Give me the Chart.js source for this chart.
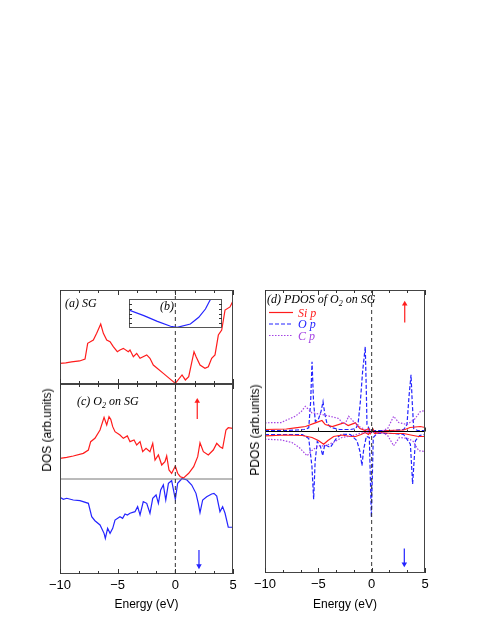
<!DOCTYPE html>
<html>
<head>
<meta charset="utf-8">
<script src="https://cdn.jsdelivr.net/npm/chart.js@4.4.1/dist/chart.umd.min.js"></script>
<style>
body { margin: 0; background: #fff; width: 485px; height: 627px; position: relative; overflow: hidden; font-family: "Liberation Sans", Arial, sans-serif; }
canvas { position: absolute; }
.ytitle { position: absolute; font-size: 12px; white-space: nowrap; transform: translate(-50%, -50%) rotate(-90deg); }
</style>
</head>
<body>
<canvas id="dosC" width="245" height="247" style="left:0;top:380px"></canvas>
<canvas id="dosA" width="245" height="102" style="left:0;top:286px"></canvas>
<canvas id="inset" width="102" height="37" style="left:125px;top:295px"></canvas>
<canvas id="pdos" width="190" height="341" style="left:245px;top:286px"></canvas>
<div class="ytitle" style="left:47px;top:430px">DOS (arb.units)</div>
<div class="ytitle" style="left:255px;top:430px">PDOS (arb.units)</div>
<script>
// --- datos ---
const energyTicks = [-10, -5, 0, 5];

// (a) SG
const energyA = [-10, -9.5, -9, -8.3, -7.83, -7.6, -7.11, -6.82, -6.47, -6.24, -5.95, -5.66, -5.38, -5.03, -4.8, -4.51, -4.08, -3.93, -3.64, -3.35, -3.06, -2.48, -2.2, -1.91, -1.04, 0, 0.58, 0.87, 1.16, 1.62, 1.8, 2.14, 2.57, 2.86, 3.15, 3.44, 3.73, 4.02, 4.31, 4.74, 4.97, 5];
const dosA = [0.22, 0.225, 0.235, 0.245, 0.266, 0.433, 0.468, 0.539, 0.638, 0.539, 0.468, 0.45, 0.397, 0.344, 0.362, 0.379, 0.344, 0.362, 0.29, 0.326, 0.273, 0.309, 0.273, 0.202, 0.113, 0.007, 0.096, 0.043, 0.078, 0.344, 0.29, 0.202, 0.167, 0.184, 0.273, 0.309, 0.521, 0.574, 0.787, 0.82, 0.876, 0.88];

// (b) inset
const energyB = [-1, -0.68, -0.39, -0.106, 0.035, 0.32, 0.5, 0.644, 0.736, 0.76];
const dosB = [0.62, 0.425, 0.23, 0.06, 0.024, 0.138, 0.37, 0.655, 0.94, 1.0];

// (c) O2 on SG, spin up / spin down
const energyUp = [-10, -9.42, -8.85, -7.98, -7.54, -7.34, -6.97, -6.53, -6.18, -5.95, -5.75, -5.6, -5.43, -5.23, -4.8, -4.51, -4.16, -3.93, -3.58, -3.35, -3.06, -2.83, -2.54, -2.2, -1.96, -1.76, -1.47, -1.18, -0.9, -0.75, -0.55, -0.32, 0, 0.2, 0.43, 0.72, 1.16, 1.59, 1.94, 2.14, 2.43, 2.86, 3.29, 3.59, 3.87, 4.1, 4.39, 4.59, 4.97, 5];
const dosUp = [0.218, 0.228, 0.242, 0.27, 0.305, 0.393, 0.428, 0.516, 0.649, 0.568, 0.656, 0.628, 0.551, 0.498, 0.463, 0.428, 0.453, 0.393, 0.411, 0.358, 0.393, 0.288, 0.323, 0.288, 0.375, 0.2, 0.253, 0.147, 0.182, 0.242, 0.095, 0.06, 0.137, 0.06, 0.024, 0.012, 0.06, 0.13, 0.235, 0.382, 0.288, 0.253, 0.305, 0.375, 0.34, 0.323, 0.516, 0.54, 0.533, 0.533];
const energyDown = [-10, -9.71, -9.42, -8.85, -8.27, -7.54, -7.25, -6.97, -6.53, -6.18, -6.07, -5.87, -5.66, -5.43, -5.23, -4.8, -4.57, -4.36, -4.16, -3.93, -3.5, -3.27, -3.06, -2.78, -2.48, -2.2, -1.96, -1.67, -1.47, -1.27, -1.04, -0.83, -0.6, -0.32, 0, 0.2, 0.58, 1.01, 1.42, 1.79, 1.99, 2.14, 2.37, 2.72, 3.15, 3.35, 3.59, 3.87, 4.1, 4.31, 4.59, 4.97, 5];
const dosDown = [-0.193, -0.214, -0.203, -0.221, -0.228, -0.256, -0.397, -0.439, -0.484, -0.572, -0.625, -0.519, -0.572, -0.519, -0.432, -0.397, -0.414, -0.368, -0.379, -0.361, -0.344, -0.291, -0.379, -0.239, -0.256, -0.361, -0.203, -0.168, -0.256, -0.116, -0.063, -0.221, -0.046, -0.018, -0.214, -0.046, 0.005, -0.011, -0.063, -0.151, -0.256, -0.355, -0.221, -0.186, -0.158, -0.151, -0.179, -0.344, -0.291, -0.361, -0.508, -0.508, -0.508];

// (d) PDOS
const siUpE = [-10, -8, -7.16, -6.2, -5.28, -4.66, -4.35, -3.7, -2.62, -2.2, -1.53, -1.1, -0.6, -0.3, -0.1, 0.1, 0.3, 1.5, 3, 3.6, 4.56, 5];
const siUp = [0.02, 0.025, 0.037, 0.05, 0.087, 0.11, 0.07, 0.05, 0.087, 0.06, 0.087, 0.03, 0.01, 0.03, -0.02, 0.03, -0.01, 0.01, 0.015, 0.04, 0.05, 0.04];
const siDownE = [-10, -8, -6.5, -5.59, -5, -4.5, -4.1, -3.56, -2.8, -2, -1.5, -1, -0.6, -0.3, 0, 0.3, 0.8, 2, 3, 3.9, 4.4, 5];
const siDown = [-0.043, -0.035, -0.04, -0.06, -0.09, -0.127, -0.09, -0.05, -0.035, -0.05, -0.05, -0.03, -0.01, -0.03, 0.01, -0.02, -0.01, -0.02, -0.02, -0.04, -0.05, -0.05];
const oUpE = [-10, -8, -7, -6.3, -5.9, -5.72, -5.59, -5.45, -5.28, -5, -4.75, -4.56, -4.4, -4.19, -3.8, -3, -2, -1.5, -1.28, -1.06, -0.85, -0.6, -0.5, -0.44, -0.2, 0.2, 1, 2, 3, 3.31, 3.5, 3.69, 3.8, 3.94, 4.3, 5];
const oUp = [0.01, 0.01, 0.015, 0.02, 0.037, 0.3, 0.7, 0.3, 0.1, 0.12, 0.2, 0.3, 0.18, 0.08, 0.04, 0.02, 0.02, 0.03, 0.07, 0.3, 0.6, 0.85, 0.4, 0.07, 0.02, 0.01, 0.01, 0.01, 0.02, 0.07, 0.35, 0.57, 0.3, 0.03, 0.01, 0.01];
const oDownE = [-10, -8, -6.5, -5.9, -5.6, -5.44, -5.3, -5.1, -4.8, -4.59, -4.4, -4.19, -3.88, -3.25, -2.78, -2, -1.38, -1.1, -0.91, -0.75, -0.5, -0.22, -0.03, 0.15, 0.5, 2, 3, 3.63, 3.84, 4.1, 4.5, 5];
const oDown = [-0.03, -0.03, -0.03, -0.07, -0.35, -0.68, -0.3, -0.1, -0.15, -0.243, -0.13, -0.143, -0.16, -0.06, -0.027, -0.03, -0.093, -0.2, -0.343, -0.18, -0.05, -0.06, -0.86, -0.06, -0.02, -0.02, -0.03, -0.127, -0.527, -0.093, -0.04, -0.03];
const cUpE = [-10, -8.5, -7.16, -6.6, -6.22, -5.59, -4.66, -4, -3.09, -2.78, -2.47, -2.16, -1.7, -1.2, -0.6, 0, 0.8, 1.5, 2.06, 2.53, 3.3, 4, 4.56, 5];
const cUp = [0.087, 0.09, 0.153, 0.2, 0.253, 0.187, 0.17, 0.155, 0.13, 0.09, 0.08, 0.153, 0.1, 0.05, 0.02, 0, 0, 0.03, 0.153, 0.09, 0.07, 0.12, 0.2, 0.21];
const cDownE = [-10, -8.5, -7.47, -6.8, -6.06, -5.59, -5, -4.34, -3.6, -2.78, -1.9, -1, 0, 1, 1.5, 2.06, 2.6, 3.4, 3.9, 4.41, 5];
const cDown = [-0.077, -0.085, -0.11, -0.16, -0.243, -0.19, -0.145, -0.143, -0.11, -0.06, -0.045, -0.015, -0.01, -0.01, -0.04, -0.143, -0.06, -0.07, -0.1, -0.193, -0.2];

const legendLabels = ['Si p', 'O p', 'C p'];

const RED = '#ff1c1c';
const BLUE = '#2424ff';
const PURPLE = '#a444e4';
const legendColors = [RED, BLUE, PURPLE];
const legendDashes = [[], [4, 2], [1.5, 1.5]];

function pts(xs, ys) {
    return xs.map((x, i) => ({ x: x, y: ys[i] }));
}

function serie(data, color, extra) {
    return Object.assign({ data: data, borderColor: color, borderWidth: 1.2, pointRadius: 0, tension: 0, fill: false }, extra || {});
}

function flecha(x, y0, y1, color) {
    return {
        data: [{ x: x, y: y0 }, { x: x, y: y1 }],
        borderColor: color, backgroundColor: color, borderWidth: 1.2,
        pointRadius: [0, 3.2], pointStyle: 'triangle', pointRotation: y1 < y0 ? 180 : 0,
        pointBackgroundColor: color, pointBorderColor: color, pointBorderWidth: 0
    };
}

function vline(y0, y1) {
    return serie([{ x: 0, y: y0 }, { x: 0, y: y1 }], '#333', { borderWidth: 1, borderDash: [4, 3] });
}

function hline(color) {
    return serie([{ x: -10, y: 0 }, { x: 5, y: 0 }], color, { borderWidth: 1 });
}

// texto con subindice (O2)
function texto(ctx, partes, x, y, color) {
    ctx.fillStyle = color || '#000';
    ctx.textBaseline = 'alphabetic';
    ctx.textAlign = 'left';
    partes.forEach(p => {
        if (p.sub) {
            ctx.font = 'italic 8px "Liberation Serif"';
            ctx.fillText(p.t, x, y + 3);
        } else {
            ctx.font = 'italic 12px "Liberation Serif"';
            ctx.fillText(p.t, x, y);
        }
        x += ctx.measureText(p.t).width;
    });
}

const decor = {
    id: 'decor',
    afterDatasetsDraw(chart, args, opts) {
        const ctx = chart.ctx, a = chart.chartArea, sx = chart.scales.x, sy = chart.scales.y;
        ctx.save();
        ctx.strokeStyle = opts.frame || '#444';
        ctx.lineWidth = 1;
        ctx.strokeRect(Math.round(a.left) + 0.5, Math.round(a.top) + 0.5, Math.round(a.right - a.left) - 1, Math.round(a.bottom - a.top) - 1);
        ctx.strokeStyle = '#333';
        if (opts.xTicks) {
            for (let i = 0; i < energyTicks.length; i++) {
                for (let k = 0; k < 3; k++) {
                    const v = energyTicks[i] + k * 5 / 3;
                    if (v > 5) break;
                    const len = k === 0 ? 5 : 3;
                    const px = Math.round(sx.getPixelForValue(v)) + 0.5;
                    ctx.beginPath();
                    ctx.moveTo(px, a.top); ctx.lineTo(px, a.top + len);
                    ctx.moveTo(px, a.bottom); ctx.lineTo(px, a.bottom - len);
                    if (opts.zeroTicks) {
                        const py = sy.getPixelForValue(0);
                        ctx.moveTo(px, py); ctx.lineTo(px, py - len + 1);
                    }
                    ctx.stroke();
                }
            }
        }
        if (opts.yTicks) {
            opts.yTicks.forEach(v => {
                const py = Math.round(sy.getPixelForValue(v)) + 0.5;
                ctx.beginPath();
                ctx.moveTo(a.left, py); ctx.lineTo(a.left + 3, py);
                ctx.moveTo(a.right, py); ctx.lineTo(a.right - 3, py);
                ctx.stroke();
            });
        }
        (opts.textos || []).forEach(t => texto(ctx, t.partes, a.left + t.dx, a.top + t.dy, t.color));
        if (opts.leyenda) {
            let yy = Math.round(a.top + 22) + 0.5;
            legendLabels.forEach((lab, i) => {
                ctx.strokeStyle = legendColors[i];
                ctx.lineWidth = 1.2;
                ctx.setLineDash(legendDashes[i]);
                ctx.beginPath();
                ctx.moveTo(a.left + 4, yy); ctx.lineTo(a.left + 28, yy);
                ctx.stroke();
                ctx.setLineDash([]);
                texto(ctx, [{ t: lab }], a.left + 33, yy + 4, legendColors[i]);
                yy += 11.5;
            });
        }
        ctx.restore();
    }
};

function opciones(xmin, xmax, ymin, ymax, padding, decorOpts, ejeX) {
    const x = { type: 'linear', min: xmin, max: xmax, display: false };
    if (ejeX) {
        Object.assign(x, {
            display: true,
            grid: { display: false, drawTicks: false },
            border: { display: false },
            ticks: {
                stepSize: 5, color: '#000', padding: 4,
                font: { family: '"Liberation Sans", Arial', size: 13 },
                callback: v => (v < 0 ? '\u2212' + Math.abs(v) : '' + v)
            },
            title: {
                display: true, text: 'Energy (eV)', color: '#000',
                font: { family: '"Liberation Sans", Arial', size: 12 },
                padding: { top: 4, bottom: 15 }
            },
            afterFit: s => { s.height = ejeX; }
        });
    }
    return {
        responsive: false, animation: false, events: [],
        layout: { padding: padding },
        plugins: { legend: { display: false }, tooltip: { enabled: false }, decor: decorOpts },
        scales: { x: x, y: { min: ymin, max: ymax, display: false } }
    };
}

new Chart(document.getElementById('dosA'), {
    type: 'line',
    data: { datasets: [vline(0, 1), serie(pts(energyA, dosA), RED)] },
    options: opciones(-10, 5, 0, 1, { left: 60, right: 12, top: 4, bottom: 4 }, {
        xTicks: true,
        textos: [{ partes: [{ t: '(a) SG' }], dx: 5, dy: 17 }]
    }),
    plugins: [decor]
});

new Chart(document.getElementById('inset'), {
    type: 'line',
    data: { datasets: [serie(pts(energyB, dosB), BLUE)] },
    options: opciones(-1, 1, 0, 1, { left: 4, right: 5, top: 4, bottom: 4 }, {
        frame: '#555',
        yTicks: [1 / 6, 2 / 6, 3 / 6, 4 / 6, 5 / 6],
        textos: [{ partes: [{ t: '(b)' }], dx: 31, dy: 11 }]
    }),
    plugins: [decor]
});

new Chart(document.getElementById('dosC'), {
    type: 'line',
    data: {
        datasets: [
            vline(-1, 1),
            hline('#777'),
            serie(pts(energyUp, dosUp), RED),
            serie(pts(energyDown, dosDown), BLUE),
            flecha(1.9, 0.632, 0.82, RED),
            flecha(2.05, -0.747, -0.915, BLUE)
        ]
    },
    options: opciones(-10, 5, -1, 1, { left: 60, right: 12, top: 4, bottom: 0 }, {
        xTicks: true,
        textos: [{ partes: [{ t: '(c) O' }, { t: '2', sub: true }, { t: ' on SG' }], dx: 17, dy: 21 }]
    }, 53),
    plugins: [decor]
});

new Chart(document.getElementById('pdos'), {
    type: 'line',
    data: {
        datasets: [
            vline(-1.42, 1.42),
            hline('#000'),
            serie(pts(cUpE, cUp), PURPLE, { borderDash: [1.5, 1.5] }),
            serie(pts(cDownE, cDown), PURPLE, { borderDash: [1.5, 1.5] }),
            serie(pts(siUpE, siUp), RED),
            serie(pts(siDownE, siDown), RED),
            serie(pts(oUpE, oUp), BLUE, { borderDash: [4, 2] }),
            serie(pts(oDownE, oDown), BLUE, { borderDash: [4, 2] }),
            flecha(3.1, 1.093, 1.28, RED),
            flecha(3.06, -1.173, -1.33, BLUE)
        ]
    },
    options: opciones(-10, 5, -1.42, 1.42, { left: 20, right: 10, top: 4, bottom: 0 }, {
        xTicks: true, zeroTicks: true, leyenda: true,
        textos: [{ partes: [{ t: '(d) PDOS of O' }, { t: '2', sub: true }, { t: ' on SG' }], dx: 2, dy: 13 }]
    }, 54),
    plugins: [decor]
});
</script>
</body>
</html>
